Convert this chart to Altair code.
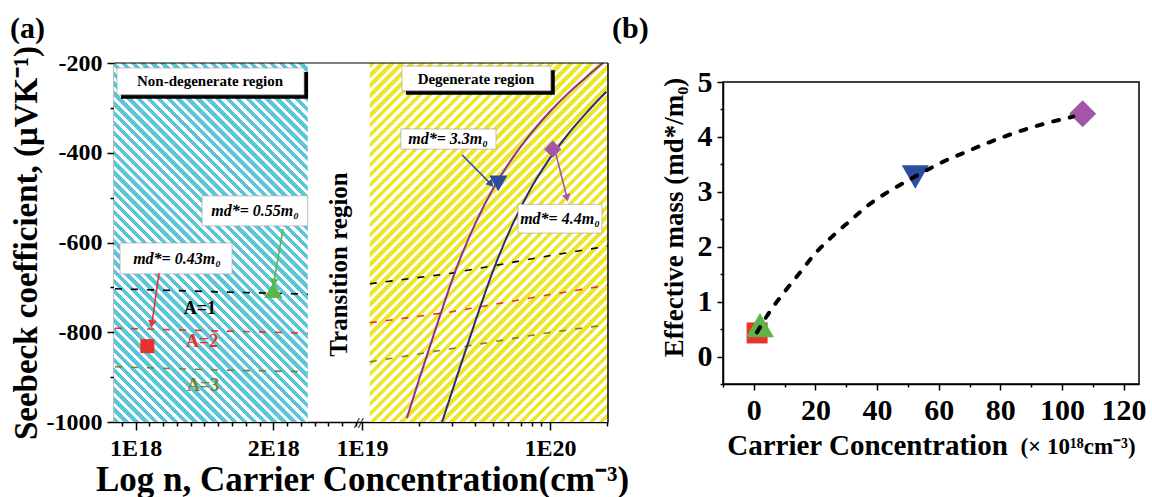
import math
import altair as alt
import pandas as pd

FONT = "Liberation Serif"

# ---------------- colours ----------------
CYAN = "#5BC5D9"
YELLOW = "#EDE62C"
RED = "#E8322B"
GREEN = "#5DB548"
BLUE = "#2E4C9F"
PURPLE_M = "#A555A8"
PURPLE_C = "#8E2E9B"
NAVY_C = "#2C2C7E"
OLIVE = "#7D7F2E"

# ---------------- panel (a) : axes ----------------
S_DOMAIN = [-1000, -200]
A_H = 359
L_DOMAIN = [0.843, 2.6]          # left segment, linear, units of 1E18 cm^-3
L_W = 242
R_DOMAIN = [9.29e18, 2.035e20]   # right segment, log, cm^-3
R_W = 252
CYAN_X = [0.843, 2.25]
YELLOW_X = [1.10e19, 2.035e20]

L_TICKS = [round(0.9 + 0.1 * i, 1) for i in range(18)]
R_TICKS = [k * 1e19 for k in range(1, 10)] + [1e20, 2e20]
S_TICKS = list(range(-1000, -199, 100))

# dashed A lines
LA_X = [0.85, 1.6, 2.25]
LA1 = [-703, -710, -715]
LA2 = [-791, -797, -802]
LA3 = [-877, -884, -888]
RA_X = [1.10e19, 2.94e19, 9.75e19, 2.03e20]
RA1 = [-692, -669, -630, -608]
RA2 = [-779, -755, -717, -695]
RA3 = [-866, -837, -801, -783]

# solid curves (degenerate region)
PUR_N = [1.734e19, 1.995e19, 2.512e19, 3.162e19, 3.981e19, 5.012e19, 6.310e19,
         7.943e19, 1.0e20, 1.259e20, 1.585e20, 1.914e20]
PUR_S = [-991, -910, -782, -660, -560, -478, -412, -356, -308, -266, -229, -200]
NAV_N = [2.667e19, 3.162e19, 3.981e19, 5.012e19, 6.310e19, 7.943e19, 1.0e20,
         1.259e20, 1.585e20, 1.995e20]
NAV_S = [-1000, -905, -779, -660, -560, -478, -412, -356, -308, -264]

# markers
ML_X = [1.085, 2.0]
ML_S = [-831, -706]
ML_SHAPE = ["square", "triangle-up"]
ML_COL = [RED, GREEN]
MR_X = [5.31e19, 1.035e20]
MR_S = [-468, -392]
MR_SHAPE = ["triangle-down", "diamond"]
MR_COL = [BLUE, PURPLE_M]

# annotation boxes / texts / arrows
BOXL_X = [0.865, 1.482, 0.887]
BOXL_X2 = [2.223, 2.25, 1.70]
BOXL_Y = [-211, -496, -601]
BOXL_Y2 = [-271, -563, -670]
BOXR_X = [1.63e19, 1.61e19, 6.76e19]
BOXR_X2 = [1.01e20, 5.16e19, 1.89e20]
BOXR_Y = [-207, -347, -515]
BOXR_Y2 = [-262, -392, -579]

TL_REGION = ["Non-degenerate region"]
TL_REGION_X = [1.54]
TL_REGION_Y = [-241]
TL_MD = ["md*= 0.55m₀", "md*= 0.43m₀"]
TL_MD_X = [1.867, 1.30]
TL_MD_Y = [-530, -637]
TR_REGION = ["Degenerate region"]
TR_REGION_X = [4.04e19]
TR_REGION_Y = [-236]
TR_MD = ["md*= 3.3m₀", "md*= 4.4m₀"]
TR_MD_X = [2.87e19, 1.13e20]
TR_MD_Y = [-370, -548]

A_TXT = ["A=1", "A=2", "A=3"]
A_X = [1.467, 1.482, 1.49]
A_Y = [-748, -822, -920]
A_COL = ["black", RED, OLIVE]

ARL_X = [2.07, 1.17]
ARL_Y = [-570, -668]
ARL_X2 = [2.005, 1.119]
ARL_Y2 = [-686, -779]
ARL_COL = [GREEN, RED]
ARL_ANG = [190, 188]
ARR_X = [3.41e19, 1.076e20]
ARR_Y = [-405, -403]
ARR_X2 = [4.8e19, 1.227e20]
ARR_Y2 = [-468, -498]
ARR_COL = [BLUE, PURPLE_M]
ARR_ANG = [137, 166]

TRANS_X = [2.477]
TRANS_Y = [-649]

PANEL_LABELS = ["(a)", "(b)"]

# ---------------- panel (b) data ----------------
B_LINE_X = [1, 5.2, 10, 15, 19.8, 25.7, 31.2, 37.7, 43.6, 49.8, 55.6, 61.5, 68.6,
            74.5, 81, 87.2, 93, 103.7]
B_LINE_Y = [0.44, 0.82, 1.18, 1.53, 1.87, 2.2, 2.47, 2.78, 3.0, 3.2, 3.38, 3.55,
            3.72, 3.86, 4.0, 4.12, 4.22, 4.37]
B_PT_X = [1.07, 2.0, 52.4, 106.7]
B_PT_Y = [0.43, 0.57, 3.27, 4.42]
B_PT_SHAPE = ["square", "triangle-up", "triangle-down", "diamond"]
B_PT_COL = [RED, GREEN, BLUE, PURPLE_M]
B_PT_SIZE = [441, 784, 730, 729]
B_XTITLE = "Carrier Concentration"
B_XUNIT = "(× 10¹⁸cm⁻³)"

# ---------------- helpers ----------------
AX = dict(labelFont=FONT, labelFontWeight="bold", labelColor="black",
          titleFont=FONT, titleFontWeight="bold", titleColor="black",
          domainColor="black", domainWidth=1.5, tickColor="black", tickWidth=1.5,
          grid=False, labelOverlap=False, labelFlush=False)


def cond_size(test, big, small):
    return {"condition": {"test": test, "value": big}, "value": small}


def hatch(color, W, H, backslash, period=7.0, white=0.45):
    k = (W + H) / (W * W + H * H)
    if backslash:
        x1, y1, x2, y2 = 0, 1, k * W, 1 - k * H
    else:
        x1, y1, x2, y2 = 0, 0, k * W, k * H
    n = max(1, round((W + H) / math.sqrt(2) / period))
    stops = []
    for i in range(n):
        a = i / n
        b = (i + 1 - white) / n
        c = (i + 1) / n
        stops += [alt.GradientStop(offset=a, color=color),
                  alt.GradientStop(offset=b, color=color),
                  alt.GradientStop(offset=b, color="white"),
                  alt.GradientStop(offset=c, color="white")]
    return alt.LinearGradient(gradient="linear", stops=stops, x1=x1, y1=y1, x2=x2, y2=y2)


AX_L = alt.Axis(values=L_TICKS,
                labelExpr="datum.value == 1 || datum.value == 2 ? datum.value + 'E18' : ''",
                tickSize=cond_size("datum.value == 1 || datum.value == 2", 8, 4),
                labelFontSize=24, labelPadding=6,
                title="Log n, Carrier Concentration(cm⁻³)", titleX=248,
                titleFontSize=35, titlePadding=2, **AX)
DEC = "abs(log(datum.value)/LN10 - round(log(datum.value)/LN10)) < 0.001"
AX_R = alt.Axis(values=R_TICKS,
                labelExpr=DEC + " ? '1E' + round(log(datum.value)/LN10) : ''",
                tickSize=cond_size(DEC, 8, 4),
                labelFontSize=24, labelPadding=6, title=None, **AX)
AY_L = alt.Axis(values=S_TICKS,
                labelExpr="datum.value % 200 == 0 ? '' + datum.value : ''",
                tickSize=cond_size("datum.value % 200 == 0", 7, 4),
                labelFontSize=24, labelPadding=5,
                title="Seebeck coefficient, (μVK⁻¹)", titleFontSize=33, titlePadding=3, **AX)

SC_LX = alt.Scale(domain=L_DOMAIN, nice=False, zero=False)
SC_RX = alt.Scale(type="log", domain=R_DOMAIN, nice=False)
SC_Y = alt.Scale(domain=S_DOMAIN, nice=False, zero=False)


def xL(f="x"):
    return alt.X(f"{f}:Q", scale=SC_LX, axis=AX_L)


def xR(f="x"):
    return alt.X(f"{f}:Q", scale=SC_RX, axis=AX_R)


def yL(f="y"):
    return alt.Y(f"{f}:Q", scale=SC_Y, axis=AY_L)


def yR(f="y"):
    return alt.Y(f"{f}:Q", scale=SC_Y, axis=None)


def long_lines(xs, series, colors):
    rows = []
    for ys, col in zip(series, colors):
        for x, y in zip(xs, ys):
            rows.append({"x": x, "y": y, "c": col})
    return pd.DataFrame(rows)


def free_text(text, dx, dy, size, align="left", baseline="bottom"):
    return alt.Chart(pd.DataFrame({"t": [text]})).mark_text(
        font=FONT, fontWeight="bold", fontSize=size, align=align, baseline=baseline,
        color="black").encode(x=alt.value(dx), y=alt.value(dy), text="t:N")


# ---------------- left segment (non-degenerate) ----------------
cyan_W = (CYAN_X[1] - CYAN_X[0]) / (L_DOMAIN[1] - L_DOMAIN[0]) * L_W
cyan_df = pd.DataFrame({"x": [CYAN_X[0]], "x2": [CYAN_X[1]], "y": [S_DOMAIN[0]], "y2": [S_DOMAIN[1]]})
l_bg = alt.Chart(cyan_df).mark_rect(fill=hatch(CYAN, cyan_W, A_H, True), strokeWidth=0).encode(
    x=xL(), x2="x2", y=yL(), y2="y2")

l_dash = alt.Chart(long_lines(LA_X, [LA1, LA2, LA3], ["black", RED, OLIVE])).mark_line(
    strokeDash=[7, 9], strokeWidth=1.6).encode(
    x=xL(), y=yL(), color=alt.Color("c:N", scale=None))

a_df = pd.DataFrame({"x": A_X, "y": A_Y, "t": A_TXT, "c": A_COL})
l_atext = alt.Chart(a_df).mark_text(font=FONT, fontWeight="bold", fontSize=18).encode(
    x=xL(), y=yL(), text="t:N", color=alt.Color("c:N", scale=None))

boxl = pd.DataFrame({"x": BOXL_X, "x2": BOXL_X2, "y": BOXL_Y, "y2": BOXL_Y2})
l_shadow = alt.Chart(boxl.iloc[:1]).mark_rect(color="black", xOffset=4, x2Offset=4,
                                              yOffset=4, y2Offset=4).encode(
    x=xL(), x2="x2", y=yL(), y2="y2")
l_box = alt.Chart(boxl).mark_rect(color="white", stroke="#999999", strokeWidth=0.6).encode(
    x=xL(), x2="x2", y=yL(), y2="y2")
l_reg = alt.Chart(pd.DataFrame({"x": TL_REGION_X, "y": TL_REGION_Y, "t": TL_REGION})).mark_text(
    font=FONT, fontWeight="bold", fontSize=15, color="black").encode(x=xL(), y=yL(), text="t:N")
l_md = alt.Chart(pd.DataFrame({"x": TL_MD_X, "y": TL_MD_Y, "t": TL_MD})).mark_text(
    font=FONT, fontWeight="bold", fontStyle="italic", fontSize=16, color="black").encode(
    x=xL(), y=yL(), text="t:N")

arl = pd.DataFrame({"x": ARL_X, "y": ARL_Y, "x2": ARL_X2, "y2": ARL_Y2, "c": ARL_COL, "a": ARL_ANG})
l_arrow = alt.Chart(arl).mark_rule(strokeWidth=1.6).encode(
    x=xL(), y=yL(), x2="x2", y2="y2", color=alt.Color("c:N", scale=None))
l_head = alt.Chart(arl).mark_point(shape="triangle", filled=True, opacity=1, size=70).encode(
    x=xL("x2"), y=yL("y2"), color=alt.Color("c:N", scale=None), angle=alt.Angle("a:Q", scale=None))

ml = pd.DataFrame({"x": ML_X, "y": ML_S, "s": ML_SHAPE, "c": ML_COL, "z": [196, 330]})
l_mark = alt.Chart(ml).mark_point(filled=True, opacity=1).encode(
    x=xL(), y=yL(), shape=alt.Shape("s:N", scale=None), color=alt.Color("c:N", scale=None),
    size=alt.Size("z:Q", scale=None))

l_trans = alt.Chart(pd.DataFrame({"x": TRANS_X, "y": TRANS_Y, "t": ["Transition region"]})).mark_text(
    font=FONT, fontWeight="bold", fontSize=25, angle=270, color="black").encode(
    x=xL(), y=yL(), text="t:N")

l_top = alt.Chart(pd.DataFrame({"y": [S_DOMAIN[1]]})).mark_rule(color="black", strokeWidth=1.2).encode(y=yL())

aL = alt.layer(l_bg, l_dash, l_atext, l_shadow, l_box, l_reg, l_md, l_arrow, l_head, l_mark,
               l_trans, l_top, free_text(PANEL_LABELS[0], -104, -19, 30)).properties(
    width=L_W, height=A_H, view=alt.ViewBackground(stroke=None))

# ---------------- right segment (degenerate) ----------------
lg = math.log10
yel_W = (lg(YELLOW_X[1]) - lg(YELLOW_X[0])) / (lg(R_DOMAIN[1]) - lg(R_DOMAIN[0])) * R_W
yel_df = pd.DataFrame({"x": [YELLOW_X[0]], "x2": [YELLOW_X[1]], "y": [S_DOMAIN[0]], "y2": [S_DOMAIN[1]]})
r_bg = alt.Chart(yel_df).mark_rect(fill=hatch(YELLOW, yel_W, A_H, False), strokeWidth=0).encode(
    x=xR(), x2="x2", y=yR(), y2="y2")

r_dash = alt.Chart(long_lines(RA_X, [RA1, RA2, RA3], ["black", RED, OLIVE])).mark_line(
    strokeDash=[7, 9], strokeWidth=1.6).encode(
    x=xR(), y=yR(), color=alt.Color("c:N", scale=None))

curves = pd.concat([
    pd.DataFrame({"x": PUR_N, "y": PUR_S, "c": PURPLE_C}),
    pd.DataFrame({"x": NAV_N, "y": NAV_S, "c": NAVY_C}),
])
r_curve = alt.Chart(curves).mark_line(strokeWidth=2, interpolate="monotone").encode(
    x=xR(), y=yR(), color=alt.Color("c:N", scale=None))

boxr = pd.DataFrame({"x": BOXR_X, "x2": BOXR_X2, "y": BOXR_Y, "y2": BOXR_Y2})
r_shadow = alt.Chart(boxr.iloc[:1]).mark_rect(color="black", xOffset=4, x2Offset=4,
                                              yOffset=4, y2Offset=4).encode(
    x=xR(), x2="x2", y=yR(), y2="y2")
r_box = alt.Chart(boxr).mark_rect(color="white", stroke="#999999", strokeWidth=0.6).encode(
    x=xR(), x2="x2", y=yR(), y2="y2")
r_reg = alt.Chart(pd.DataFrame({"x": TR_REGION_X, "y": TR_REGION_Y, "t": TR_REGION})).mark_text(
    font=FONT, fontWeight="bold", fontSize=15, color="black").encode(x=xR(), y=yR(), text="t:N")
r_md = alt.Chart(pd.DataFrame({"x": TR_MD_X, "y": TR_MD_Y, "t": TR_MD})).mark_text(
    font=FONT, fontWeight="bold", fontStyle="italic", fontSize=16, color="black").encode(
    x=xR(), y=yR(), text="t:N")

arr = pd.DataFrame({"x": ARR_X, "y": ARR_Y, "x2": ARR_X2, "y2": ARR_Y2, "c": ARR_COL, "a": ARR_ANG})
r_arrow = alt.Chart(arr).mark_rule(strokeWidth=1.6).encode(
    x=xR(), y=yR(), x2="x2", y2="y2", color=alt.Color("c:N", scale=None))
r_head = alt.Chart(arr).mark_point(shape="triangle", filled=True, opacity=1, size=70).encode(
    x=xR("x2"), y=yR("y2"), color=alt.Color("c:N", scale=None), angle=alt.Angle("a:Q", scale=None))

mr = pd.DataFrame({"x": MR_X, "y": MR_S, "s": MR_SHAPE, "c": MR_COL, "z": [330, 300]})
r_mark = alt.Chart(mr).mark_point(filled=True, opacity=1).encode(
    x=xR(), y=yR(), shape=alt.Shape("s:N", scale=None), color=alt.Color("c:N", scale=None),
    size=alt.Size("z:Q", scale=None))

r_break = alt.Chart(pd.DataFrame({"x": [9.6e18], "y": [S_DOMAIN[0]], "t": ["//"]})).mark_text(
    font=FONT, fontSize=14, fontStyle="italic", fontWeight="bold", color="black", dy=2).encode(
    x=xR(), y=yR(), text="t:N")

r_top = alt.Chart(pd.DataFrame({"y": [S_DOMAIN[1]]})).mark_rule(color="black", strokeWidth=1.2).encode(y=yR())
r_right = alt.Chart(pd.DataFrame({"x": [R_DOMAIN[1]]})).mark_rule(color="black", strokeWidth=1.5).encode(x=xR())

aR = alt.layer(r_bg, r_dash, r_curve, r_shadow, r_box, r_reg, r_md, r_arrow, r_head, r_mark,
               r_break, r_top, r_right).properties(
    width=R_W, height=A_H, view=alt.ViewBackground(stroke=None))

# ---------------- panel (b) ----------------
B_W, B_H = 416, 302
AXB_X = alt.Axis(values=list(range(-10, 121, 10)),
                 labelExpr="datum.value % 20 == 0 ? '' + datum.value : ''",
                 tickSize=cond_size("datum.value % 20 == 0", 6, 3),
                 labelFontSize=30, labelPadding=5,
                 title=B_XTITLE, titleFontSize=29, titleX=144, titleY=70,
                 titleBaseline="alphabetic", **AX)
AXB_Y = alt.Axis(values=[-0.5 + 0.5 * i for i in range(12)],
                 labelExpr="datum.value % 1 == 0 ? '' + datum.value : ''",
                 tickSize=cond_size("datum.value % 1 == 0", 6, 3),
                 labelFontSize=30, labelPadding=5,
                 title="Effective mass (md*/m₀)", titleFontSize=27, titlePadding=9,
                 titleY=135, **AX)
SBX = alt.Scale(domain=[-10, 125], nice=False, zero=False)
SBY = alt.Scale(domain=[-0.5, 5], nice=False, zero=False)

b_line = alt.Chart(pd.DataFrame({"x": B_LINE_X, "y": B_LINE_Y})).mark_line(
    color="black", strokeWidth=4, strokeDash=[6, 11], strokeCap="round", interpolate="monotone").encode(
    x=alt.X("x:Q", scale=SBX, axis=AXB_X), y=alt.Y("y:Q", scale=SBY, axis=AXB_Y))
b_pts = alt.Chart(pd.DataFrame({"x": B_PT_X, "y": B_PT_Y, "s": B_PT_SHAPE, "c": B_PT_COL,
                                "z": B_PT_SIZE})).mark_point(filled=True, opacity=1).encode(
    x=alt.X("x:Q", scale=SBX, axis=AXB_X), y=alt.Y("y:Q", scale=SBY, axis=AXB_Y),
    shape=alt.Shape("s:N", scale=None), color=alt.Color("c:N", scale=None),
    size=alt.Size("z:Q", scale=None))

panel_b = alt.layer(
    b_pts, b_line,
    free_text(PANEL_LABELS[1], -111, -38, 30),
    free_text(B_XUNIT, 355, B_H + 70, 23, align="center", baseline="alphabetic"),
).properties(width=B_W, height=B_H, view=alt.ViewBackground(stroke="black", strokeWidth=1.5))


def blank(w, h):
    return alt.Chart(pd.DataFrame({"v": [0]})).mark_point(opacity=0, size=1).encode(
        x=alt.X("v:Q", axis=None), y=alt.Y("v:Q", axis=None)).properties(
        width=w, height=h, view=alt.ViewBackground(stroke=None))


b_stack = alt.vconcat(blank(B_W, 19), panel_b, spacing=0, bounds="flush")

chart = alt.hconcat(aL, aR, blank(115, 10), b_stack, spacing=0, bounds="flush").properties(
    padding={"left": 10, "top": 13, "right": 2, "bottom": 0},
    background="white").configure_axis(labelFontWeight="bold", labelFont=FONT)

chart.save("out.html", embed_options={"renderer": "svg", "actions": False})
